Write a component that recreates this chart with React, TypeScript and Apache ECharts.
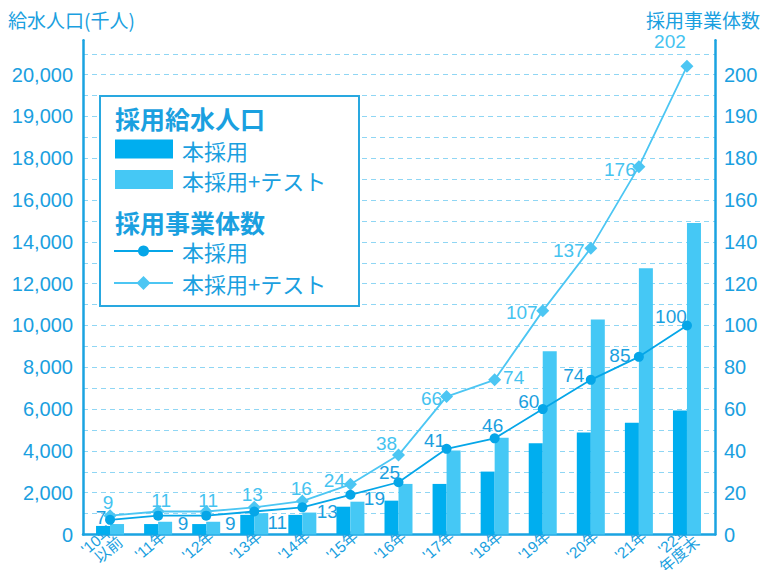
import { useEffect, useRef } from 'react';
import * as echarts from 'echarts';

// ---- data ----
const categories = ["'10年\n以前", "'11年", "'12年", "'13年", "'14年", "'15年", "'16年", "'17年", "'18年", "'19年", "'20年", "'21年", "'22年\n年度末"];
// 採用給水人口 (千人)
const popMain = [410, 500, 500, 940, 940, 1330, 1620, 2420, 3010, 4360, 4880, 5350, 5930];
const popTest = [500, 610, 610, 1020, 1050, 1570, 2420, 4020, 4630, 8770, 10290, 12740, 14900];
// 採用事業体数
const orgMain = [7, 9, 9, 11, 13, 19, 25, 41, 46, 60, 74, 85, 100];
const orgTest = [9, 11, 11, 13, 16, 24, 38, 66, 74, 107, 137, 176, 202];
// tick labels as printed (the top two steps are half-size in the original)
const popTickLabels = [0, 2000, 4000, 6000, 8000, 10000, 12000, 14000, 16000, 18000, 19000, 20000];
const orgTickLabels = [0, 20, 40, 60, 80, 100, 120, 140, 160, 180, 190, 200];

// ---- styling ----
const DARK = '#00aeef';
const LIGHT = '#45c8f5';
const LINE_DARK = '#05a6e8';
const LINE_LIGHT = '#4cc6f3';
const TEXT = '#1aa0e0';
const TEXT_LIGHT = '#45c3f0';
const FONT = "'Liberation Sans', 'Noto Sans CJK JP', sans-serif";
const JP = "'Noto Sans CJK JP', sans-serif";

const darkOffsets = [[-9, -2], [25, 8], [24, 8], [23, 11], [25, 4], [24, 4], [-9, -10], [-12, -8], [-2, -13], [-14, -8], [-17, -4], [-19, -1], [-16, -9]];
const lightOffsets = [[-2, -13], [3, -11], [2, -11], [-2, -13], [-1, -13], [-16, -4], [-12, -12], [-15, 2], [19, -2], [-21, 2], [-22, 2], [-19, 3], [-17, -25]];

// axis scale with a break: above the knee, one label step covers half the value range
const breakScale = (knee: number) => (v: number) => (v <= knee ? v : knee + (v - knee) * 2);
const popAxis = breakScale(18000);
const orgAxis = breakScale(180);
const fmt = (n: number) => n.toLocaleString('en-US');

const tickFormatter = (labels: number[], step: number) => (v: number) => {
  const i = Math.round(v / step);
  if (Math.abs(v - i * step) > 1e-6 || i >= labels.length) return '';
  return fmt(labels[i]);
};

const buildOption = (): any => {
  const gridBottom = 35.5;
  const LZ = 100;
  return {
    animation: false,
    textStyle: { fontFamily: FONT },
    grid: [
      { left: 86, right: 51, top: 40.2, bottom: gridBottom, containLabel: false, outerBoundsMode: 'none' },
      { left: 83, right: 47, top: 53.8, bottom: gridBottom, containLabel: false, outerBoundsMode: 'none' },
    ],
    xAxis: [
      {
        type: 'category',
        gridIndex: 0,
        data: categories,
        axisLine: { show: false },
        axisTick: { show: false },
        axisLabel: {
          rotate: 40,
          margin: 4,
          fontSize: 15.5,
          lineHeight: 15,
          color: TEXT,
          fontFamily: FONT,
          interval: 0,
          padding: [0, -7, 0, 0],
        },
      },
      {
        type: 'category',
        gridIndex: 1,
        data: categories,
        axisLine: { show: true, lineStyle: { color: '#1aa3e1', width: 2.5 } },
        axisTick: { show: false },
        axisLabel: { show: false },
      },
    ],
    yAxis: [
      {
        type: 'value',
        gridIndex: 0,
        position: 'left',
        offset: 3,
        min: 0,
        max: 23650,
        interval: 2000,
        axisLine: { show: true, lineStyle: { color: '#1aa3e1', width: 2.5 } },
        axisTick: { show: false },
        splitLine: { show: false },
        axisLabel: {
          margin: 10,
          fontSize: 20,
          color: TEXT,
          showMaxLabel: false,
          formatter: tickFormatter(popTickLabels, 2000),
        },
      },
      {
        type: 'value',
        gridIndex: 0,
        position: 'right',
        offset: 4,
        min: 0,
        max: 236.5,
        interval: 20,
        axisLine: { show: true, lineStyle: { color: '#1aa3e1', width: 2.5 } },
        axisTick: { show: false },
        splitLine: { show: false },
        axisLabel: {
          margin: 9,
          fontSize: 20,
          color: TEXT,
          showMaxLabel: false,
          formatter: tickFormatter(orgTickLabels, 20),
        },
      },
      {
        type: 'value',
        gridIndex: 1,
        min: 0,
        max: 23000,
        interval: 1000,
        axisLine: { show: false },
        axisTick: { show: false },
        axisLabel: { show: false },
        splitLine: { show: true, lineStyle: { color: '#8fd6f4', type: [5, 4], width: 1.2 } },
      },
    ],
    series: [
      {
        name: '本採用',
        type: 'bar',
        xAxisIndex: 0,
        yAxisIndex: 0,
        barWidth: 14,
        barGap: '0%',
        itemStyle: { color: DARK },
        data: popMain.map(popAxis),
      },
      {
        name: '本採用+テスト',
        type: 'bar',
        xAxisIndex: 0,
        yAxisIndex: 0,
        barWidth: 14,
        barGap: '0%',
        itemStyle: { color: LIGHT },
        data: popTest.map(popAxis),
      },
      {
        name: '本採用 事業体',
        type: 'line',
        xAxisIndex: 0,
        yAxisIndex: 1,
        symbol: 'circle',
        symbolSize: 10,
        itemStyle: { color: LINE_DARK },
        lineStyle: { color: LINE_DARK, width: 1.8 },
        label: {
          show: true,
          position: 'inside',
          fontSize: 19,
          color: TEXT,
          formatter: (p: any) => String(orgMain[p.dataIndex]),
        },
        data: orgMain.map((v, i) => ({ value: orgAxis(v), label: { offset: darkOffsets[i] } })),
        z: 4,
      },
      {
        name: '本採用+テスト 事業体',
        type: 'line',
        xAxisIndex: 0,
        yAxisIndex: 1,
        symbol: 'diamond',
        symbolSize: 13,
        itemStyle: { color: LINE_LIGHT },
        lineStyle: { color: LINE_LIGHT, width: 1.8 },
        label: {
          show: true,
          position: 'inside',
          fontSize: 19,
          color: TEXT_LIGHT,
          formatter: (p: any) => String(orgTest[p.dataIndex]),
        },
        data: orgTest.map((v, i) => ({ value: orgAxis(v), label: { offset: lightOffsets[i] } })),
        z: 3,
      },
    ],
    graphic: [
      {
        type: 'text',
        left: 8,
        top: 10,
        style: { text: '給水人口(千人)', fill: TEXT, font: `19px ${JP}` },
      },
      {
        type: 'text',
        right: 2,
        top: 10,
        style: { text: '採用事業体数', fill: TEXT, font: `19px ${JP}` },
      },
      {
        type: 'rect',
        z: LZ,
        shape: { x: 100, y: 96, width: 259, height: 210 },
        style: { fill: '#ffffff', stroke: '#29a8e0', lineWidth: 2 },
      },
      {
        type: 'text',
        z: LZ + 1,
        x: 115,
        y: 118,
        style: { text: '採用給水人口', fill: TEXT, font: `bold 25px ${JP}`, verticalAlign: 'middle' },
      },
      { type: 'rect', z: LZ + 1, shape: { x: 115, y: 139.5, width: 58, height: 19 }, style: { fill: DARK } },
      {
        type: 'text',
        z: LZ + 1,
        x: 182,
        y: 149.5,
        style: { text: '本採用', fill: TEXT, font: `22px ${JP}`, verticalAlign: 'middle' },
      },
      { type: 'rect', z: LZ + 1, shape: { x: 115, y: 170, width: 58, height: 19 }, style: { fill: LIGHT } },
      {
        type: 'text',
        z: LZ + 1,
        x: 182,
        y: 180,
        style: { text: '本採用+テスト', fill: TEXT, font: `22px ${JP}`, verticalAlign: 'middle' },
      },
      {
        type: 'text',
        z: LZ + 1,
        x: 115,
        y: 221.5,
        style: { text: '採用事業体数', fill: TEXT, font: `bold 25px ${JP}`, verticalAlign: 'middle' },
      },
      { type: 'line', z: LZ + 1, shape: { x1: 114, y1: 251, x2: 173, y2: 251 }, style: { stroke: LINE_DARK, lineWidth: 1.8 } },
      { type: 'circle', z: LZ + 2, shape: { cx: 143.5, cy: 251, r: 5.5 }, style: { fill: LINE_DARK } },
      {
        type: 'text',
        z: LZ + 1,
        x: 182,
        y: 251,
        style: { text: '本採用', fill: TEXT, font: `22px ${JP}`, verticalAlign: 'middle' },
      },
      { type: 'line', z: LZ + 1, shape: { x1: 114, y1: 283, x2: 173, y2: 283 }, style: { stroke: LINE_LIGHT, lineWidth: 1.8 } },
      {
        type: 'polygon',
        z: LZ + 2,
        shape: { points: [[143.5, 276], [150.5, 283], [143.5, 290], [136.5, 283]] },
        style: { fill: LINE_LIGHT },
      },
      {
        type: 'text',
        z: LZ + 1,
        x: 182,
        y: 283,
        style: { text: '本採用+テスト', fill: TEXT, font: `22px ${JP}`, verticalAlign: 'middle' },
      },
    ],
  };
};

export default function App() {
  const ref = useRef<HTMLDivElement>(null);
  useEffect(() => {
    document.body.style.margin = '0';
    const chart = echarts.init(ref.current as HTMLDivElement, null, { renderer: 'svg' });
    chart.setOption(buildOption());
    return () => chart.dispose();
  }, []);
  return <div ref={ref} style={{ width: 762, height: 570, background: '#ffffff' }} />;
}
